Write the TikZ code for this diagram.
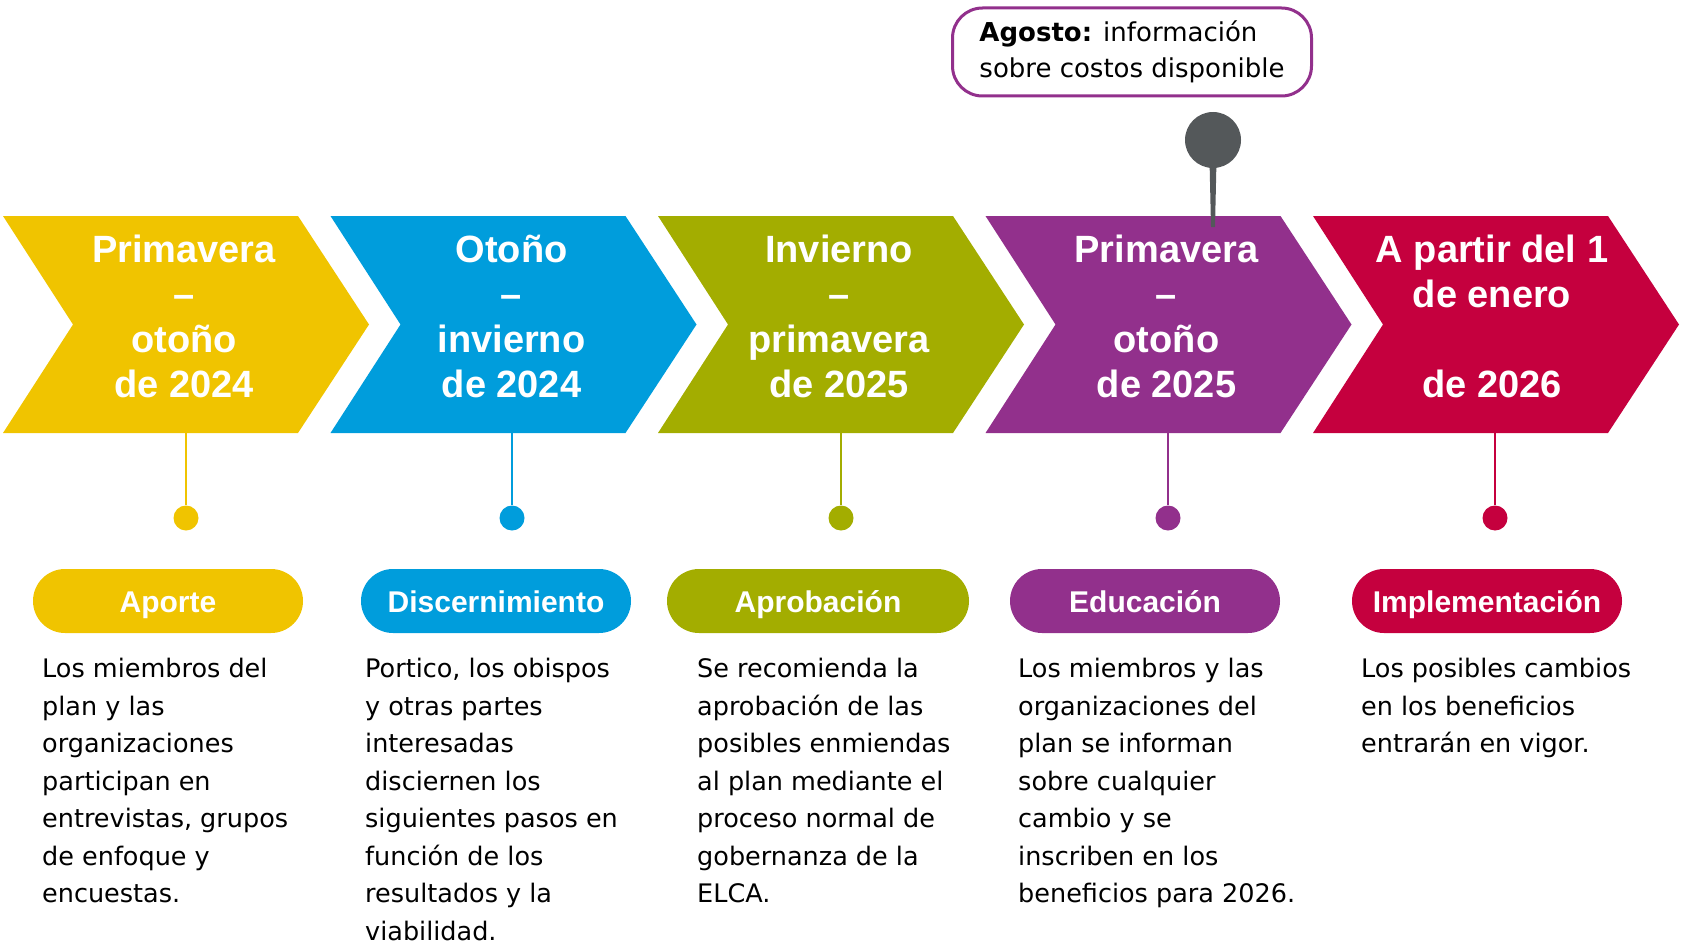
\documentclass[tikz,border=0pt]{standalone}
\usepackage{fontspec}
\setmainfont{DejaVu Sans}
\newfontfamily\headfont{Liberation Sans}
\definecolor{ylw}{HTML}{F0C400}
\definecolor{blu}{HTML}{009DDC}
\definecolor{grn}{HTML}{A3AD00}
\definecolor{prp}{HTML}{92308C}
\definecolor{crm}{HTML}{C5003E}
\definecolor{pingray}{HTML}{54585A}
\tikzset{heading/.style={text=white,inner sep=0pt,align=center,
  font=\headfont\bfseries\fontsize{38}{45}\selectfont},
  pill/.style 2 args={fill=#1,minimum width=#2,minimum height=64pt,rounded corners=32pt,
  inner sep=0pt,text=white,text height=22pt,text depth=0pt,
  font=\headfont\bfseries\fontsize{30}{36}\selectfont},
  body/.style={anchor=north west,inner sep=0pt,align=left,font=\fontsize{25.5}{37.5}\selectfont},
  stem/.style={draw=#1,line width=1.5pt},
  dot/.style={circle,fill=#1,minimum size=25pt,inner sep=0pt}}

\begin{document}
\begin{tikzpicture}[x=1pt,y=-1pt]
\useasboundingbox (0,0) rectangle (1688,947);
% connectors behind the arrows
\foreach \x/\c [count=\i] in {186/ylw,512/blu,841/grn,1168/prp,1495/crm}{
  \coordinate (top\i) at (\x,230);
  \node[dot=\c] (d\i) at (\x,518) {};
  \draw[stem=\c] (top\i) -- (d\i);
}
% chevrons
\foreach \c [count=\i from 0] in {ylw,blu,grn,prp,crm}{
  \fill[\c] (3+327.5*\i,216) -- ++(295,0) -- ++(71,108.5) -- ++(-71,108.5)
    -- ++(-295,0) -- ++(70,-108.5) -- cycle;
}
\node[heading] (h1) at (184,316) {Primavera\\–\\otoño\\de 2024};
\node[heading] (h2) at (511.5,316) {Otoño\\–\\invierno\\de 2024};
\node[heading] (h3) at (839,316) {Invierno\\–\\primavera\\de 2025};
\node[heading] (h4) at (1166.5,316) {Primavera\\–\\otoño\\de 2025};
\node[heading] (h5) at (1492,316) {A partir del 1\\de enero\\[45pt]de 2026};
% August marker
\node[draw=prp,line width=3pt,rounded corners=30pt,minimum width=359pt,minimum height=88pt,
  inner sep=0pt,align=left,font=\fontsize{26}{36}\selectfont] (aug) at (1132,52)
  {\textbf{Agosto:} información\\sobre costos disponible};
\fill[pingray] (1209.5,160) -- (1216.5,160) -- (1215,227) -- (1211,227) -- cycle;
\node[circle,fill=pingray,minimum size=56pt,inner sep=0pt] (marker) at (1213,140) {};
% phases
\node[pill={ylw}{270pt}] (p1) at (168,601) {Aporte};
\node[pill={blu}{270pt}] (p2) at (496,601) {Discernimiento};
\node[pill={grn}{302pt}] (p3) at (818,601) {Aprobación};
\node[pill={prp}{270pt}] (p4) at (1145,601) {Educación};
\node[pill={crm}{270pt}] (p5) at (1487,601) {Implementación};
\node[body] (t1) at (42,658) {Los miembros del\\plan y las\\organizaciones\\participan en\\entrevistas, grupos\\de enfoque y\\encuestas.};
\node[body] (t2) at (365,658) {Portico, los obispos\\y otras partes\\interesadas\\disciernen los\\siguientes pasos en\\función de los\\resultados y la\\viabilidad.};
\node[body] (t3) at (697,658) {Se recomienda la\\aprobación de las\\posibles enmiendas\\al plan mediante el\\proceso normal de\\gobernanza de la\\ELCA.};
\node[body] (t4) at (1018,658) {Los miembros y las\\organizaciones del\\plan se informan\\sobre cualquier\\cambio y se\\inscriben en los\\beneficios para 2026.};
\node[body] (t5) at (1361,658) {Los posibles cambios\\en los beneficios\\entrarán en vigor.};
\end{tikzpicture}
\end{document}
